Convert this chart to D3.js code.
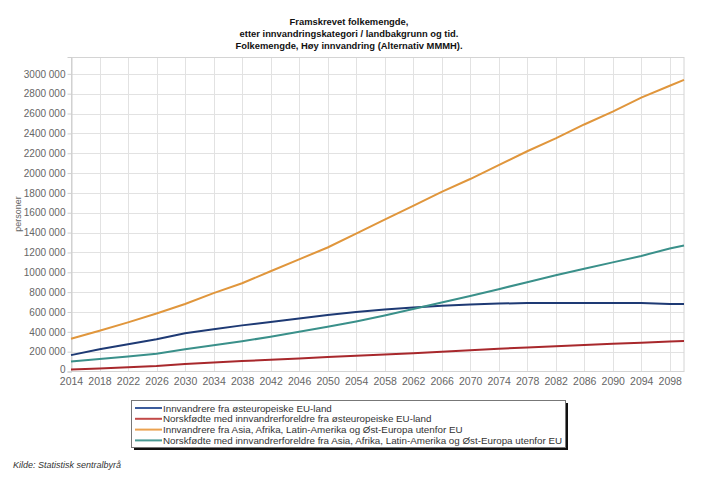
<!DOCTYPE html>
<html><head><meta charset="utf-8">
<script src="https://cdn.jsdelivr.net/npm/d3@7"></script>
<style>
body{margin:0;background:#fff;}
svg{font-family:"Liberation Sans",Arial,sans-serif;}
</style></head>
<body><svg id="c" width="720" height="480"></svg>
<script>
const years = [2014,2018,2022,2026,2030,2034,2038,2042,2046,2050,2054,2058,2062,2066,2070,2074,2078,2082,2086,2090,2094,2098,2100];
const eastEuImm = [165,225,275,325,385,425,465,500,535,570,600,625,645,662,675,685,690,690,690,690,690,680,680];
const eastEuNorBorn = [20,30,42,55,75,90,105,118,132,147,160,172,185,200,215,230,242,255,268,280,290,302,307];
const asiaImm = [330,410,495,585,680,790,890,1010,1130,1250,1390,1530,1670,1810,1940,2080,2220,2350,2490,2620,2760,2880,2940];
const asiaNorBorn = [100,125,150,180,225,265,305,350,400,450,505,565,630,695,760,830,900,970,1035,1100,1165,1240,1270];
const tickYears = d3.range(2014, 2099, 4);
const yTicks = d3.range(0, 3000001, 200000);
const seriesNames = [
 "Innvandrere fra østeuropeiske EU-land",
 "Norskfødte med innvandrerforeldre fra østeuropeiske EU-land",
 "Innvandrere fra Asia, Afrika, Latin-Amerika og Øst-Europa utenfor EU",
 "Norskfødte med innvandrerforeldre fra Asia, Afrika, Latin-Amerika og Øst-Europa utenfor EU"
];
const seriesValues = [eastEuImm, eastEuNorBorn, asiaImm, asiaNorBorn];
const lineColors = ["#1e3a74","#a8282c","#e0963c","#3a908a"];
const legendColors = ["#3b5c9c","#c24a48","#eba250","#4a9a94"];
const titleLines = ["Framskrevet folkemengde,","etter innvandringskategori / landbakgrunn og tid.","Folkemengde, Høy innvandring (Alternativ MMMH)."];

const svg = d3.select("#c");
const x = d3.scaleLinear().domain([2014,2100]).range([71,684]);
const y = d3.scaleLinear().domain([0,3170000]).range([371.5,57]);

// title
svg.append("g").selectAll("text").data(titleLines).join("text")
  .attr("x",349).attr("y",(d,i)=>25+i*12).attr("text-anchor","middle")
  .attr("font-size",9.4).attr("font-weight","bold").attr("fill","#111").text(d=>d);

// grid
const g = svg.append("g");
g.selectAll(".hg").data(yTicks.slice(1)).join("line")
  .attr("x1",71).attr("x2",684).attr("y1",d=>Math.round(y(d))+0.5).attr("y2",d=>Math.round(y(d))+0.5)
  .attr("stroke","#e2e2e2");
g.selectAll(".vg").data(tickYears.slice(1)).join("line")
  .attr("y1",57).attr("y2",371.5).attr("x1",d=>Math.round(x(d))+0.5).attr("x2",d=>Math.round(x(d))+0.5)
  .attr("stroke","#e2e2e2");
g.append("rect").attr("x",71.5).attr("y",57.5).attr("width",612.5).attr("height",314)
  .attr("fill","none").attr("stroke","#d4d4d4");

const fmt = v => v===0 ? "0" : `${Math.floor(v/1000)} 000`;

// y axis
const yAxis = d3.axisLeft(y).tickValues(yTicks).tickSize(4).tickPadding(2).tickFormat(fmt);
const ya = svg.append("g").attr("transform","translate(71.5,0)").call(yAxis);
ya.select(".domain").attr("stroke","#cfcfcf");
ya.selectAll(".tick line").attr("stroke","#cfcfcf");
ya.selectAll(".tick text").attr("fill","#666").attr("font-size",10).attr("font-family","Liberation Sans, Arial, sans-serif");
ya.selectAll(".tick text").filter(d=>d===0).attr("dy","0.05em");

// x axis
const xAxis = d3.axisBottom(x).tickValues(tickYears).tickSize(0).tickPadding(6).tickFormat(d3.format("d"));
const xa = svg.append("g").attr("transform","translate(0,371.5)").call(xAxis);
xa.select(".domain").remove();
xa.selectAll(".tick text").attr("fill","#666").attr("font-size",10.5).attr("font-family","Liberation Sans, Arial, sans-serif");

// y label
svg.append("text").attr("transform","translate(21,214) rotate(-90)").attr("text-anchor","middle")
  .attr("font-size",9).attr("fill","#666").text("personer");

// lines
const line = d3.line().x((d,i)=>x(years[i])).y(d=>y(d*1000));
svg.append("g").selectAll("path").data(seriesValues).join("path")
  .attr("d",d=>line(d)).attr("fill","none").attr("stroke",(d,i)=>lineColors[i]).attr("stroke-width",2);

// legend
const lg = svg.append("g");
lg.append("rect").attr("x",134).attr("y",403).attr("width",434).attr("height",47).attr("fill","#111");
lg.append("rect").attr("x",131.5).attr("y",400.5).attr("width",434).attr("height",47).attr("fill","#fff").attr("stroke","#777");
const rows = lg.selectAll(".r").data(seriesNames).join("g").attr("transform",(d,i)=>`translate(0,${408+i*10.8})`);
rows.append("line").attr("x1",135).attr("x2",162).attr("stroke",(d,i)=>legendColors[i]).attr("stroke-width",2);
rows.append("text").attr("x",163).attr("y",3.5).attr("font-size",9.8).attr("fill","#333").text(d=>d);

// source
svg.append("text").attr("x",13).attr("y",468).attr("font-size",9).attr("font-style","italic").attr("fill","#333").text("Kilde: Statistisk sentralbyrå");
</script></body></html>
